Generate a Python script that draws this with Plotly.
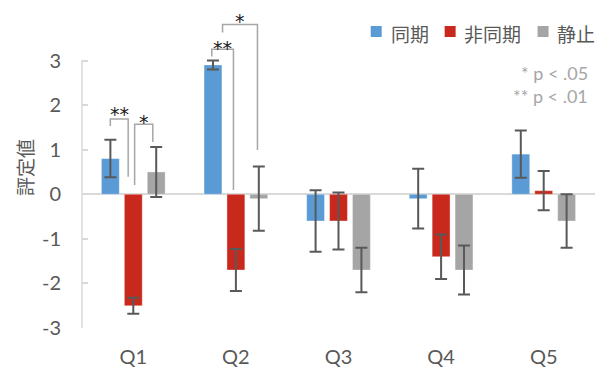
import plotly.graph_objects as go

# Ratings per question and condition (mean, error)
categories = ["Q1", "Q2", "Q3", "Q4", "Q5"]
series_names = ["同期", "非同期", "静止"]

sync_mean = [0.8, 2.9, -0.6, -0.1, 0.9]
sync_err = [0.42, 0.10, 0.69, 0.67, 0.53]

async_mean = [-2.5, -1.7, -0.6, -1.4, 0.08]
async_err = [0.18, 0.47, 0.64, 0.50, 0.44]

static_mean = [0.5, -0.1, -1.7, -1.7, -0.6]
static_err = [0.56, 0.72, 0.50, 0.55, 0.60]

y_ticks = [-3, -2, -1, 0, 1, 2, 3]
y_tick_labels = ["-3", "-2", "-1", "0", "1", "2", "3"]

colors = ["#5b9bd5", "#c9291d", "#a5a5a5"]
text_color = "#595959"
axis_color = "#d9d9d9"
bracket_color = "#a6a6a6"
font_family = "Lato, 'Noto Sans CJK JP', sans-serif"

# Plot area in pixels (for converting legend placement to paper units)
W, H = 603, 370
M_L, M_R, M_T, M_B = 82, 7.5, 7, 42
PW, PH = W - M_L - M_R, H - M_T - M_B


def px_x(px):
    return (px - M_L) / PW


def px_y(py):
    return (H - M_B - py) / PH


fig = go.Figure()
for name, mean, err, col in zip(series_names,
                                [sync_mean, async_mean, static_mean],
                                [sync_err, async_err, static_err],
                                colors):
    fig.add_trace(go.Bar(
        x=list(range(len(categories))), y=mean, name=name,
        marker=dict(color=col, line=dict(color="rgba(255,255,255,0.35)", width=1)),
        error_y=dict(type="data", array=err, visible=True,
                     color="#595959", thickness=2, width=6),
        showlegend=False,
    ))

# Significance brackets: (x_left, y_left_bottom, x_right, y_right_bottom, y_top)
brackets = [
    (-0.224, 1.53, -0.05, 0.39, 1.69),
    (0.013, 0.21, 0.19, 1.17, 1.57),
    (0.765, 3.09, 0.976, 0.095, 3.25),
    (0.87, 3.63, 1.21, 0.99, 3.81),
]
shapes = []
for xl, yl, xr, yr, yt in brackets:
    shapes.append(dict(
        type="path", xref="x", yref="y",
        path=f"M {xl},{yl} L {xl},{yt} L {xr},{yt} L {xr},{yr}",
        line=dict(color=bracket_color, width=1.5),
    ))

# Vertical axis line from -3 to 3
shapes.append(dict(type="line", xref="paper", yref="y", x0=0, x1=0, y0=-3, y1=3,
                   line=dict(color=axis_color, width=1.5)))

stars = [("**", -0.134, 1.89), ("*", 0.10, 1.71), ("**", 0.873, 3.39), ("*", 1.04, 3.98)]
annotations = []
for txt, sx, sy in stars:
    annotations.append(dict(
        x=sx, y=sy - 0.1, xref="x", yref="y", text=txt, showarrow=False,
        font=dict(size=19, color="#1a1a1a", family="DejaVu Sans"),
        xanchor="center", yanchor="middle",
    ))

for txt, py in [("* p < .05", 73), ("** p < .01", 96)]:
    annotations.append(dict(
        x=px_x(590), y=px_y(py), xref="paper", yref="paper", text=txt, showarrow=False,
        font=dict(size=18, color="#a6a6a6", family=font_family),
        xanchor="right", yanchor="middle",
    ))

# Legend: colour swatch followed by the series name
legend_items = [(371, 389), (445, 462), (538, 555)]
for (sq_x, tx_x), name, col in zip(legend_items, series_names, colors):
    shapes.append(dict(type="rect", xref="paper", yref="paper",
                       x0=px_x(sq_x), x1=px_x(sq_x + 11), y0=px_y(37), y1=px_y(26),
                       fillcolor=col, line=dict(width=0)))
    annotations.append(dict(
        x=px_x(tx_x), y=px_y(33), xref="paper", yref="paper", text=name, showarrow=False,
        font=dict(size=19, color=text_color, family="'Noto Sans CJK JP', sans-serif"),
        xanchor="left", yanchor="middle",
    ))

fig.update_layout(
    width=W, height=H,
    margin=dict(l=M_L, r=M_R, t=M_T, b=M_B, autoexpand=False),
    paper_bgcolor="white", plot_bgcolor="white",
    barmode="group", bargap=0.33, bargroupgap=0.22,
    font=dict(family=font_family, color=text_color, size=18),
    showlegend=False,
    shapes=shapes, annotations=annotations,
    xaxis=dict(
        tickmode="array", tickvals=list(range(len(categories))), ticktext=categories,
        range=[-0.5, len(categories) - 0.5],
        showgrid=False, showline=False, zeroline=False, automargin=False,
        ticks="outside", ticklen=11, tickcolor="rgba(0,0,0,0)",
        tickfont=dict(size=20, color=text_color),
    ),
    yaxis=dict(
        range=[-3, 4.2], tickmode="array", tickvals=y_ticks, ticktext=y_tick_labels,
        showgrid=False, showline=False, automargin=False,
        zeroline=True, zerolinecolor=axis_color, zerolinewidth=2,
        ticks="inside", ticklen=6, tickcolor=axis_color, tickwidth=1.5,
        ticklabelstandoff=20,
        tickfont=dict(size=20, color=text_color),
        title=dict(text="評定値", font=dict(size=19, color=text_color,
                                          family="'Noto Sans CJK JP', sans-serif"),
                   standoff=3),
    ),
)

fig.write_html("out.html")
